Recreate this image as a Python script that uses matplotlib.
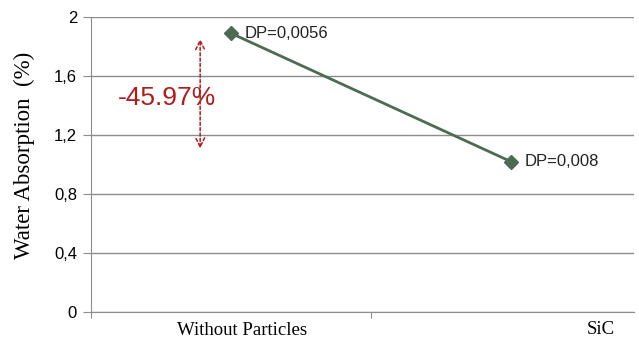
import numpy as np
import matplotlib.pyplot as plt

categories = ["Without Particles", "SiC"]
absorption = [1.89, 1.02]
dp_labels = ["DP=0,0056", "DP=0,008"]
y_ticks = [0, 0.4, 0.8, 1.2, 1.6, 2]
y_tick_labels = ["0", "0,4", "0,8", "1,2", "1,6", "2"]
change_text = "-45.97%"

line_color = "#4d6b53"
red = "#b01c1c"
grid_color = "#8c8c8c"

fig = plt.figure(figsize=(6.39, 3.38), dpi=100)
ax = fig.add_axes([91 / 639, 26 / 338, 543 / 639, 295 / 338])

x = np.arange(len(categories))
ax.plot(x, absorption, color=line_color, lw=2.0, marker="D", ms=7,
        markerfacecolor=line_color, markeredgecolor=line_color, zorder=3)

for xi, yi, lab in zip(x, absorption, dp_labels):
    ax.annotate(lab, (xi, yi), xytext=(10, 0), textcoords="offset points",
                va="center", ha="left", fontsize=12, family="Liberation Sans",
                color="#222222")

# percentage change marker
ax.annotate("", xy=(-0.11, 1.87), xytext=(-0.11, 1.09),
            arrowprops=dict(arrowstyle="<->", color=red, lw=1.1,
                            linestyle=(0, (2, 1.5)), mutation_scale=16))
ax.text(-0.23, 1.45, change_text, color=red, fontsize=19,
        family="Liberation Sans", ha="center", va="center")

ax.set_xlim(-0.5, 1.44)
ax.set_ylim(0, 2)
ax.set_yticks(y_ticks)
ax.set_yticklabels(y_tick_labels, family="Liberation Sans", fontsize=12)
ax.yaxis.grid(True, color=grid_color, lw=1)
ax.set_axisbelow(True)

ax.set_xticks([-0.5, 0.5])
ax.set_xticklabels([])
ax.tick_params(axis="x", length=4, color=grid_color)
ax.tick_params(axis="y", length=6, color=grid_color, pad=4)

# category labels
ax.text(0.04, -0.128, categories[0], ha="center", va="center",
        family="Liberation Serif", fontsize=13.5)
ax.text(1.32, -0.12, categories[1], ha="center", va="center",
        family="Liberation Serif", fontsize=13.5)

ax.set_ylabel("Water Absorption  (%)", family="Liberation Serif", fontsize=16.5)
ax.yaxis.set_label_coords(-0.103, 0.53)

for side in ["top", "right"]:
    ax.spines[side].set_visible(False)
for side in ["left", "bottom"]:
    ax.spines[side].set_color(grid_color)

fig.savefig("out.png", dpi=100)
